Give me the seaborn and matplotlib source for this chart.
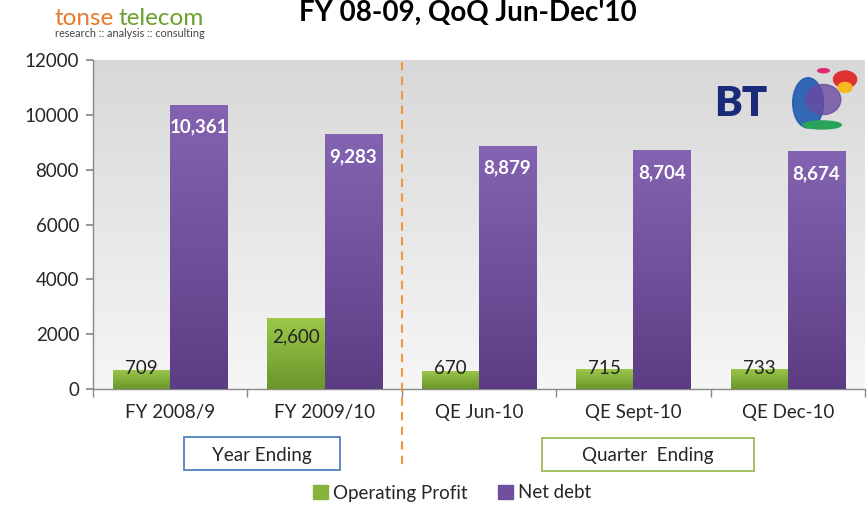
import numpy as np
import pandas as pd
import matplotlib
matplotlib.use("Agg")
import matplotlib.pyplot as plt
import seaborn as sns
from matplotlib.patches import Rectangle, Ellipse

categories = ["FY 2008/9", "FY 2009/10", "QE Jun-10", "QE Sept-10", "QE Dec-10"]
operating_profit = [709, 2600, 670, 715, 733]
net_debt = [10361, 9283, 8879, 8704, 8674]
series_names = ["Operating Profit", "Net debt"]
yticks = [0, 2000, 4000, 6000, 8000, 10000, 12000]

sns.set_theme(style="white")
plt.rcParams['font.family'] = ['Lato', 'DejaVu Sans']

df = pd.DataFrame({
    "Category": categories * 2,
    "Series": [series_names[0]] * 5 + [series_names[1]] * 5,
    "Value": operating_profit + net_debt,
})

green = "#86b33c"
purple = "#6f4f9e"
FS = 13.5

fig = plt.figure(figsize=(8.67, 5.05), dpi=100)
ax = fig.add_axes([93/867, 116/505, 772/867, 329/505])

# background gradient
grad = np.linspace(0, 1, 256).reshape(-1, 1)
ax.imshow(grad, extent=[0, 1, 0, 1], transform=ax.transAxes, aspect='auto',
          cmap=matplotlib.colors.LinearSegmentedColormap.from_list("bg", ["#f6f6f6", "#d8d8d8"]),
          origin='lower', zorder=0)

sns.barplot(data=df, x="Category", y="Value", hue="Series", order=categories,
            hue_order=series_names, palette=[green, purple], width=0.74,
            saturation=1, ax=ax, legend=False, zorder=2)

# gradient fill on bars
cmaps = {
    0: matplotlib.colors.LinearSegmentedColormap.from_list("g", ["#6a962c", "#9cc84a"]),
    1: matplotlib.colors.LinearSegmentedColormap.from_list("p", ["#5c3d84", "#8464b2"]),
}
patches = list(ax.patches)
for i, p in enumerate(patches):
    s = 0 if i < len(categories) else 1
    x0, y0 = p.get_x(), p.get_y()
    w, h = p.get_width(), p.get_height()
    im = ax.imshow(grad, extent=[x0, x0 + w, y0, y0 + h], aspect='auto',
                   cmap=cmaps[s], origin='lower', zorder=3)
    im.set_clip_path(p)
    p.set_edgecolor("none")

ax.set_xlim(-0.5, 4.5)
ax.set_ylim(0, 12000)
ax.set_yticks(yticks)
ax.set_yticklabels([str(v) for v in yticks], fontsize=FS)
ax.set_xlabel("")
ax.set_ylabel("")
ax.tick_params(axis='x', labelsize=FS, length=0, pad=11)
ax.tick_params(axis='y', left=True, length=5, color="#888888", pad=5)
ax.set_xticks(np.arange(-0.5, 5.0, 1.0), minor=True)
ax.tick_params(axis='x', which='minor', bottom=True, length=6, color="#888888")
for sp in ["top", "right"]:
    ax.spines[sp].set_visible(False)
for sp in ["left", "bottom"]:
    ax.spines[sp].set_color("#888888")
    ax.spines[sp].set_linewidth(1)

# value labels
for i, v in enumerate(operating_profit):
    ax.text(i - 0.185, max(v, 1450) - 700, f"{v:,}", ha='center', va='center',
            fontsize=FS, color="#222222", zorder=5)
for i, v in enumerate(net_debt):
    ax.annotate(f"{v:,}", (i + 0.185, v), xytext=(0, -16), textcoords='offset points',
                ha='center', va='center', fontsize=FS, fontweight='bold',
                color='white', zorder=5)

# dashed separator
fig.add_artist(plt.Line2D([402/867, 402/867], [1 - 62/505, 1 - 470/505],
                          color="#f0963c", lw=1.5, ls=(0, (4, 3))))

# group boxes
fig.add_artist(Rectangle((184/867, 1 - 470/505), 156/867, 33/505, fill=False,
                         edgecolor="#4f81bd", lw=1.3))
fig.text(262/867, 1 - 455/505, "Year Ending", ha='center', va='center', fontsize=FS)
fig.add_artist(Rectangle((542/867, 1 - 471/505), 212/867, 33/505, fill=False,
                         edgecolor="#9bbb59", lw=1.3))
fig.text(648/867, 1 - 456/505, "Quarter  Ending", ha='center', va='center', fontsize=FS)

# legend
handles = [Rectangle((0, 0), 1, 1, color=green), Rectangle((0, 0), 1, 1, color=purple)]
fig.legend(handles, series_names, loc='center', bbox_to_anchor=(452/867, 1 - 493/505),
           ncol=2, frameon=False, fontsize=FS, handlelength=0.8, handleheight=0.8,
           handletextpad=0.3, columnspacing=1.6)

# title
fig.text(468/867, 1 - 21/505, "FY 08-09, QoQ Jun-Dec'10", ha='center', va='baseline',
         fontsize=20, fontweight='bold', color='black')

# tonse telecom logo text
fig.text(55/867, 1 - 25/505, "tonse", ha='left', va='baseline', fontsize=17.5, color="#e8792a")
fig.text(118/867, 1 - 25/505, "telecom", ha='left', va='baseline', fontsize=17.5, color="#6aa12e")
fig.text(55/867, 1 - 37/505, "research :: analysis :: consulting", ha='left', va='baseline',
         fontsize=7.8, color="#444444")

# BT logo
fig.text(714/867, 1 - 104/505, "BT", ha='left', va='center', fontsize=30,
         fontweight='heavy', color="#1a2a7a")
lax = fig.add_axes([785/867, 1 - 133/505, 77/867, 67/505])
lax.set_xlim(0, 1); lax.set_ylim(0, 1); lax.axis('off')
lax.add_patch(Ellipse((0.3, 0.45), 0.4, 0.75, color="#1f5bb0", alpha=0.9))
lax.add_patch(Ellipse((0.5, 0.5), 0.45, 0.45, color="#6a4aa0", alpha=0.8))
lax.add_patch(Ellipse((0.48, 0.12), 0.5, 0.12, color="#2aa35a"))
lax.add_patch(Ellipse((0.78, 0.8), 0.3, 0.25, color="#e03030"))
lax.add_patch(Ellipse((0.78, 0.68), 0.18, 0.15, color="#f5b820"))
lax.add_patch(Ellipse((0.5, 0.93), 0.15, 0.06, color="#e0287a"))

fig.savefig("out.png", dpi=100)
